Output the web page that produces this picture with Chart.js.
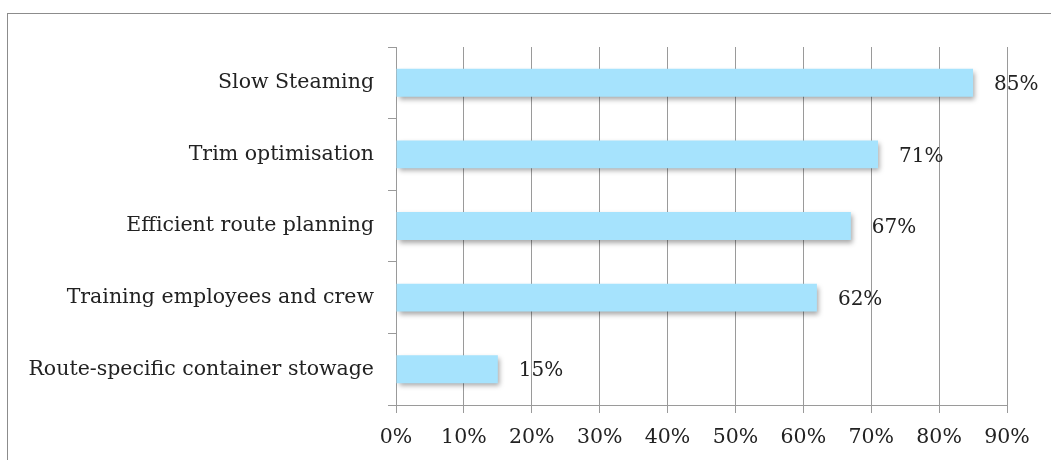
<!DOCTYPE html>
<html>
<head>
<meta charset="utf-8">
<script src="https://cdn.jsdelivr.net/npm/chart.js@4/dist/chart.umd.min.js"></script>
<style>
  html, body { margin: 0; padding: 0; background: #fff; }
  #wrap { width: 1051px; height: 460px; position: relative; }
</style>
</head>
<body>
<div id="wrap"><canvas id="c" width="1051" height="460"></canvas></div>
<script>
const categories = [
  'Slow Steaming',
  'Trim optimisation',
  'Efficient route planning',
  'Training employees and crew',
  'Route-specific container stowage'
];
const shares = [85, 71, 67, 62, 15];
const xTicks = [0, 10, 20, 30, 40, 50, 60, 70, 80, 90];

const FONT = "'DejaVu Serif', Georgia, serif";
const TEXT = '#222';
const GRID = '#9a9a9a';

// Outer frame around the chart
const framePlugin = {
  id: 'frame',
  beforeDraw(chart) {
    const ctx = chart.ctx;
    ctx.save();
    ctx.strokeStyle = '#8c8c8c';
    ctx.lineWidth = 1;
    ctx.strokeRect(7.5, 13.5, chart.width + 10, chart.height + 10);
    ctx.restore();
  }
};

// Soft drop shadow under the bars
const shadowPlugin = {
  id: 'barShadow',
  beforeDatasetDraw(chart) {
    const ctx = chart.ctx;
    ctx.save();
    ctx.shadowColor = 'rgba(0,0,0,0.35)';
    ctx.shadowBlur = 5;
    ctx.shadowOffsetX = 2;
    ctx.shadowOffsetY = 3;
  },
  afterDatasetDraw(chart) {
    chart.ctx.restore();
  }
};

// Percentage labels at the end of each bar
const valueLabels = {
  id: 'valueLabels',
  afterDatasetsDraw(chart) {
    const ctx = chart.ctx;
    const meta = chart.getDatasetMeta(0);
    ctx.save();
    ctx.font = '20px ' + FONT;
    ctx.fillStyle = TEXT;
    ctx.textAlign = 'left';
    ctx.textBaseline = 'middle';
    meta.data.forEach((bar, i) => {
      ctx.fillText(shares[i] + '%', bar.x + 21, bar.y + 2);
    });
    ctx.restore();
  }
};

new Chart(document.getElementById('c'), {
  type: 'bar',
  data: {
    labels: categories,
    datasets: [{
      data: shares,
      backgroundColor: '#a6e3fd',
      borderWidth: 0,
      categoryPercentage: 1,
      barPercentage: 0.39
    }]
  },
  options: {
    indexAxis: 'y',
    responsive: false,
    animation: false,
    layout: { padding: { top: 47, right: 44, left: 0, bottom: 0 } },
    plugins: { legend: { display: false }, tooltip: { enabled: false } },
    scales: {
      x: {
        min: 0,
        max: 90,
        afterBuildTicks(scale) { scale.ticks = xTicks.map(v => ({ value: v })); },
        afterFit(scale) { scale.height = 55; },
        border: { color: GRID, width: 1 },
        grid: { color: GRID, lineWidth: 1, drawTicks: true, tickLength: 8 },
        ticks: {
          color: TEXT,
          font: { family: FONT, size: 20.5 },
          padding: 12,
          maxRotation: 0,
          callback: v => v + '%'
        }
      },
      y: {
        afterFit(scale) { scale.width = 396; },
        border: { color: GRID, width: 1 },
        grid: { drawOnChartArea: false, drawTicks: true, tickLength: 8, color: GRID, offset: true },
        ticks: {
          color: TEXT,
          font: { family: FONT, size: 20.5 },
          padding: 14
        }
      }
    }
  },
  plugins: [framePlugin, shadowPlugin, valueLabels]
});
</script>
</body>
</html>
